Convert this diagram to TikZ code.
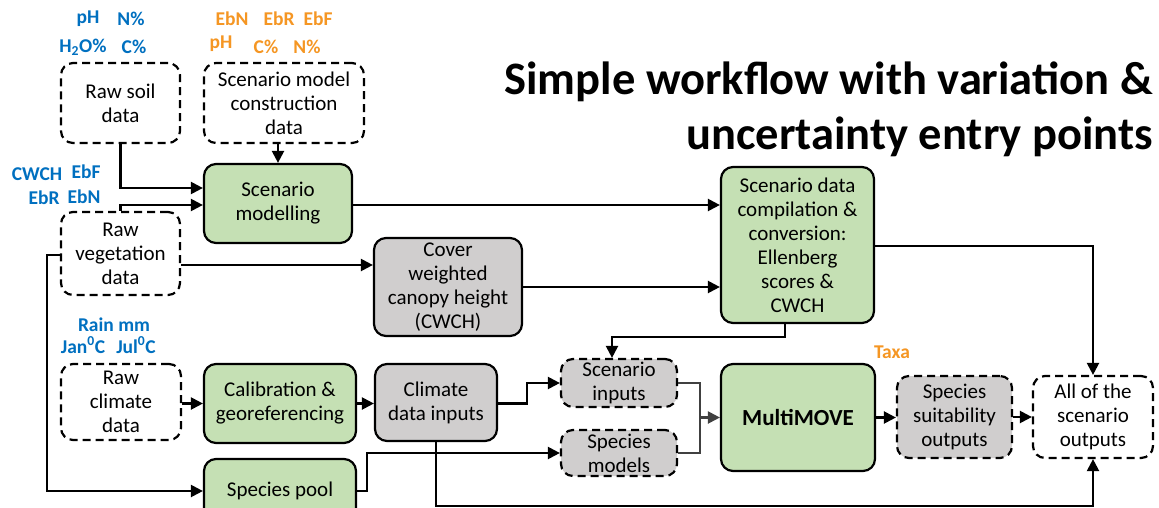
\documentclass[tikz,border=0pt]{standalone}
\usepackage{fontspec}
\setmainfont{Carlito}
\usetikzlibrary{arrows.meta,calc}
\definecolor{gfill}{HTML}{C5E0B4}
\definecolor{grfill}{HTML}{D0CECE}
\definecolor{lblue}{RGB}{0,112,192}
\definecolor{lorange}{RGB}{245,150,35}
\definecolor{mergegray}{HTML}{404040}
\newcommand{\bodyfont}{\fontsize{21}{24}\selectfont}
\newcommand{\lblfont}{\fontsize{19.5}{22}\selectfont\bfseries}
\tikzset{
  box/.style={draw, line width=2.2pt, rounded corners=12pt, align=center, font=\bodyfont, inner sep=0pt},
  gbox/.style={box, fill=gfill},
  gybox/.style={box, fill=grfill},
  dbox/.style={box, dash pattern=on 8pt off 5pt},
  dgybox/.style={box, fill=grfill, dash pattern=on 8pt off 5pt},
  bluelab/.style={font=\lblfont, text=lblue, inner sep=0pt},
  orangelab/.style={font=\lblfont, text=lorange, inner sep=0pt},
  conn/.style={line width=2.2pt, -{Triangle[length=12pt,width=12pt]}},
  gline/.style={line width=2.2pt, draw=mergegray},
  gconn/.style={line width=2.2pt, draw=mergegray, -{Triangle[length=12pt,width=12pt]}, mergegray},
}
\begin{document}
\begin{tikzpicture}[x=1pt,y=-1pt]
\useasboundingbox (0,0) rectangle (1159,508);
\clip (0,0) rectangle (1159,508);
\fill[white] (0,0) rectangle (1159,508);

% title
\node[font=\fontsize{46.5}{55}\selectfont\bfseries, align=right, anchor=east, inner sep=0pt] (title) at (1153,109) {Simple workflow with variation \&\\uncertainty entry points};

% nodes
\node[dbox, minimum width=119pt, minimum height=80pt] (soil) at (120.5,103) {Raw soil\\data};
\node[dbox, minimum width=160pt, minimum height=80pt] (smc) at (284,103) {Scenario model\\construction\\data};
\node[gbox, minimum width=148pt, minimum height=79pt] (scen) at (278,203.5) {Scenario\\modelling};
\node[dbox, minimum width=119pt, minimum height=83pt] (veg) at (120.5,253.5) {Raw\\vegetation\\data};
\node[gybox, minimum width=148pt, minimum height=98pt] (cwch) at (448,287) {Cover\\weighted\\canopy height\\(CWCH)};
\node[gbox, minimum width=153pt, minimum height=156pt] (comp) at (797.5,245) {Scenario data\\compilation \&\\conversion:\\Ellenberg\\scores \&\\CWCH};
\node[dbox, minimum width=120pt, minimum height=76pt] (clim) at (121,402) {Raw\\climate\\data};
\node[gbox, minimum width=152pt, minimum height=79pt] (calib) at (280,403.5) {Calibration \&\\georeferencing};
\node[gybox, minimum width=122pt, minimum height=77pt] (cdi) at (436,402.5) {Climate\\data inputs};
\node[dgybox, minimum width=116pt, minimum height=48pt] (sinp) at (619,383) {Scenario\\inputs};
\node[dgybox, minimum width=116pt, minimum height=46pt] (smod) at (619,453) {Species\\models};
\node[gbox, minimum width=154pt, minimum height=107pt, font=\fontsize{23}{27}\selectfont\bfseries] (mm) at (798,417.5) {MultiMOVE};
\node[dgybox, minimum width=115pt, minimum height=82pt] (sso) at (954.5,417) {Species\\suitability\\outputs};
\node[dbox, minimum width=120pt, minimum height=82pt] (all) at (1093,417) {All of the\\scenario\\outputs};
\node[gbox, minimum width=152pt, minimum height=64pt] (pool) at (280,491) {Species pool};

% labels
\node[bluelab] (l1) at (88,19) {pH};
\node[bluelab] (l2) at (131,19) {N\%};
\node[bluelab] (l3) at (83,47) {H\textsubscript{2}O\%};
\node[bluelab] (l4) at (134,47) {C\%};
\node[orangelab] (o1) at (232,19) {EbN};
\node[orangelab] (o2) at (279,19) {EbR};
\node[orangelab] (o3) at (318,19) {EbF};
\node[orangelab] (o4) at (221,44) {pH};
\node[orangelab] (o5) at (266,47) {C\%};
\node[orangelab] (o6) at (307,47) {N\%};
\node[bluelab] (l5) at (37,174) {CWCH};
\node[bluelab] (l6) at (86,172) {EbF};
\node[bluelab] (l7) at (44,198) {EbR};
\node[bluelab] (l8) at (84,197) {EbN};
\node[bluelab] (l9) at (114,325) {Rain mm};
\node[bluelab] (l10) at (83,345) {Jan\textsuperscript{0}C};
\node[bluelab] (l11) at (136,345) {Jul\textsuperscript{0}C};
\node[orangelab] (o7) at (892,352) {Taxa};

% helper coordinates
\coordinate (ySoil) at (0,188);
\coordinate (yVeg) at (0,205);
\coordinate (yCw) at (0,265);
\coordinate (yComp) at (0,246);
\coordinate (yLeft) at (0,255);
\coordinate (xLeft) at (47,0);
\coordinate (xComp) at (785,0);
\coordinate (bendA) at (612,337);
\coordinate (bendB) at (527,383);
\coordinate (bendC) at (367,453);
\coordinate (yBot) at (0,506);
\coordinate (merge) at (700,417.5);

% connectors
\draw[conn] (soil.south) |- (scen.west |- ySoil);
\draw[conn] (scen.north |- smc.south) -- (scen.north);
\draw[conn] (veg.north) |- (scen.west |- yVeg);
\draw[conn] (veg.east |- yCw) -- (cwch.west |- yCw);
\draw[conn] (scen.east |- yVeg) -- (comp.west |- yVeg);
\draw[conn] (cwch.east) -- (comp.west |- cwch.east);
\draw[conn] (comp.south -| xComp) |- (bendA) -- (sinp.north -| bendA);
\draw[conn] (comp.east |- yComp) -| (all.north);
\draw[conn] (veg.west |- yLeft) -- (xLeft |- yLeft) |- (pool.west);
\draw[conn] (clim.east |- calib.west) -- (calib.west);
\draw[conn] (calib.east) -- (cdi.west |- calib.east);
\draw[conn] (cdi.east |- calib.east) -| (bendB) -- (sinp.west);
\draw[conn] (pool.east) -| (bendC) -- (smod.west);
\draw[conn] (cdi.south) |- (all.south |- yBot) -- (all.south);
\draw[gline] (sinp.east) -| (merge) |- (smod.east);
\draw[gconn] (merge) -- (mm.west);
\draw[conn] (mm.east) -- (sso.west |- mm.east);
\draw[conn] (sso.east) -- (all.west);
\end{tikzpicture}
\end{document}
